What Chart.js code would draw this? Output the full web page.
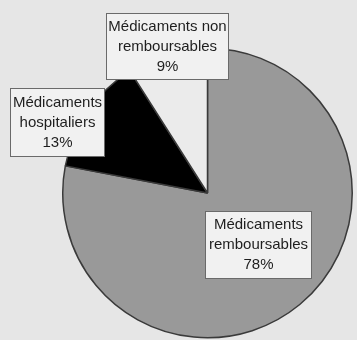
<!DOCTYPE html>
<html>
<head>
<meta charset="utf-8">
<script src="https://cdn.jsdelivr.net/npm/chart.js@4.4.0/dist/chart.umd.min.js"></script>
<style>
    html, body { margin: 0; padding: 0; background: #e6e6e6; }
    #wrap { width: 357px; height: 340px; position: relative; }
</style>
</head>
<body>
<div id="wrap"><canvas id="pieChart"></canvas></div>
<script>
// slice data, clockwise from the top
var categories = [
    ['Médicaments', 'remboursables'],
    ['Médicaments', 'hospitaliers'],
    ['Médicaments non', 'remboursables']
];
var shares = [78, 13, 9];
var sliceColors = ['#999999', '#000000', '#ebebeb'];

// where each label box sits (left, top, width, height)
var labelBoxes = [
    [205, 211, 107, 68],
    [10, 88, 95, 69],
    [106, 13, 123, 67]
];

// boxed labels drawn over the pie
var boxLabels = {
    id: 'boxLabels',
    afterDatasetsDraw: function (chart) {
        var ctx = chart.ctx;
        ctx.save();
        ctx.font = '15px "Liberation Sans", Arial, sans-serif';
        ctx.textAlign = 'center';
        ctx.textBaseline = 'middle';
        labelBoxes.forEach(function (b, i) {
            ctx.fillStyle = '#f1f1f1';
            ctx.fillRect(b[0], b[1], b[2], b[3]);
            ctx.strokeStyle = '#6a6a6a';
            ctx.lineWidth = 1;
            ctx.strokeRect(b[0] + 0.5, b[1] + 0.5, b[2] - 1, b[3] - 1);
            var lines = categories[i].concat([shares[i] + '%']);
            var cx = b[0] + b[2] / 2;
            var y0 = b[1] + b[3] / 2 - 20;
            ctx.fillStyle = '#1e1e1e';
            lines.forEach(function (t, k) {
                ctx.fillText(t, cx, y0 + k * 20);
            });
        });
        ctx.restore();
    }
};

var pieCtx = document.getElementById('pieChart').getContext('2d');
window.pieChart = new Chart(pieCtx, {
    type: 'pie',
    data: {
        labels: categories.map(function (c) { return c.join(' '); }),
        datasets: [{
            data: shares,
            backgroundColor: sliceColors,
            borderColor: '#3a3a3a',
            borderWidth: 1.5
        }]
    },
    options: {
        responsive: true,
        maintainAspectRatio: false,
        animation: false,
        layout: {
            padding: { left: 62, top: 47, right: 4, bottom: 1 }
        },
        plugins: {
            legend: { display: false },
            tooltip: { enabled: false }
        }
    },
    plugins: [boxLabels]
});
</script>
</body>
</html>
